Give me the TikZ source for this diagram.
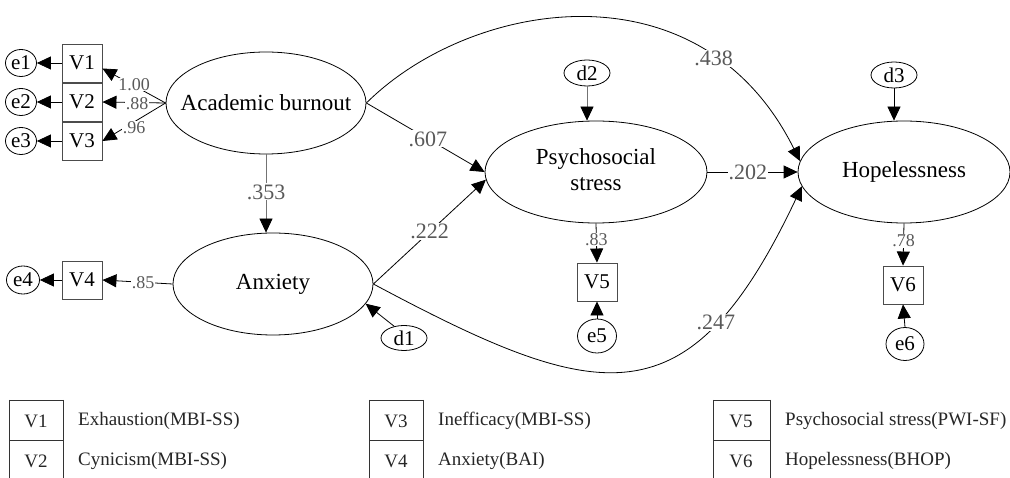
\documentclass[tikz,border=0pt]{standalone}
\usepackage{fontspec}
\setmainfont{Liberation Serif}
\usetikzlibrary{arrows.meta,shapes.geometric}
\newcommand{\narrowtext}[1]{\makebox[0pt]{#1}}

\begin{document}
\begin{tikzpicture}[x=1pt,y=-1pt,>={Triangle[length=14pt,width=13pt]},
    latent/.style={draw,ellipse,inner sep=0pt,line width=0.8pt,font=\fontsize{23}{26}\selectfont},
    obs/.style={draw=black!70,line width=0.9pt,inner sep=0pt,minimum width=40pt,minimum height=38pt,font=\fontsize{21}{22}\selectfont},
    err/.style={draw,ellipse,inner sep=0pt,line width=0.8pt,font=\fontsize{21}{22}\selectfont},
    conn/.style={->,line width=0.8pt},
    greyconn/.style={-{Triangle[length=14pt,width=13pt,color=black]},line width=0.8pt,draw=black!55},
    coef/.style={fill=white,inner sep=1pt,text=black!65,font=\fontsize{22}{23}\selectfont},
    scoef/.style={coef,inner sep=0.5pt,font=\fontsize{18}{19}\selectfont},
    legline/.style={line width=0.8pt,black!80},
    legkey/.style={inner sep=0pt,text=black!85,font=\fontsize{19}{21}\selectfont},
    legtext/.style={legkey,anchor=west}]
    \useasboundingbox[fill=white] (0,0) rectangle (1010,478);

    \node[latent,minimum width=200pt,minimum height=102pt] (AB) at (266,103) {\narrowtext{Academic burnout}};
    \node[latent,minimum width=200pt,minimum height=102pt] (Anx) at (273,284) {\narrowtext{Anxiety}};
    \node[latent,minimum width=222pt,minimum height=102pt] (Psy) at (596,172)
      {\narrowtext{\begin{tabular}{@{}c@{}}Psychosocial\\stress\end{tabular}}};
    \node[latent,minimum width=212pt,minimum height=102pt] (Hop) at (904,172) {\narrowtext{Hopelessness}};

    \node[obs] (V1) at (82,63) {V1};
    \node[obs] (V2) at (82,102) {V2};
    \node[obs] (V3) at (82,141) {V3};
    \node[obs] (V4) at (82,280) {V4};
    \node[obs] (V5) at (597,282) {V5};
    \node[obs] (V6) at (903,285) {V6};

    \node[err,minimum width=31pt,minimum height=27pt] (e1) at (21,63) {e1};
    \node[err,minimum width=31pt,minimum height=27pt] (e2) at (21,102) {e2};
    \node[err,minimum width=31pt,minimum height=27pt] (e3) at (21,141) {e3};
    \node[err,minimum width=33pt,minimum height=28pt] (e4) at (23,280) {e4};
    \node[err,minimum width=39pt,minimum height=34pt] (e5) at (597,336) {e5};
    \node[err,minimum width=38pt,minimum height=33pt] (e6) at (905,344) {e6};
    \node[err,minimum width=46pt,minimum height=25pt] (d1) at (404,338) {d1};
    \node[err,minimum width=46pt,minimum height=26pt] (d2) at (587,73) {d2};
    \node[err,minimum width=46pt,minimum height=26pt] (d3) at (894,75) {d3};

    \draw[conn] (V1.west) -- (e1.east);
    \draw[conn] (V2.west) -- (e2.east);
    \draw[conn] (V3.west) -- (e3.east);
    \draw[conn] (V4.west) -- (e4.east);
    \draw[conn] (e5.north) -- (V5.south);
    \draw[conn] (e6.north) -- (V6.south);

    \draw[conn] (AB.west) -- (V1.-15) node[scoef,pos=0.5,yshift=1.5pt] (w1) {1.00};
    \draw[conn] (AB.west) -- (V2.east) node[scoef,pos=0.45,yshift=-1pt] (w2) {.88};
    \draw[conn] (AB.west) -- (V3.east) node[scoef,pos=0.5,yshift=-6pt] (w3) {.96};
    \draw[conn] (Anx.west) -- (V4.east) node[scoef,pos=0.42] (w4) {.85};
    \draw[conn] (Psy.south) -- (V5.north) node[scoef,pos=0.42] (w5) {.83};
    \draw[conn] (Hop.south) -- (V6.north) node[scoef,pos=0.42] (w6) {.78};

    \draw[greyconn] (AB.south) -- (AB.south |- Anx.north) node[coef,pos=0.48] (b353) {.353};
    \draw[conn] (AB.east) -- (Psy.west) node[coef,pos=0.52] (b607) {.607};
    \draw[conn] (Anx.east) -- (Psy.184) node[coef,pos=0.5] (b222) {.222};
    \draw[conn] (Psy.east) -- (Hop.west) node[coef,pos=0.45] (b202) {.202};
    \draw[conn] (AB.east) .. controls (470,0) and (700,-40) .. (Hop.174) node[coef,pos=0.77] (b438) {.438};
    \draw[conn] (Anx.east) .. controls (600,405) and (689,425) .. (Hop.188) node[coef,pos=0.74] (b247) {.247};

    \draw[conn] (d1.130) -- (Anx.-12);
    \draw[greyconn] (d2.south) -- (d2.south |- Psy.north);
    \draw[conn] (d3.south) -- (d3.south |- Hop.north);

    \draw[legline] (9,400) -- (9,478) (63,400) -- (63,478) (9,400) -- (63,400) (9,440) -- (63,440);
    \node[legkey] (k1) at (36,421) {V1};
    \node[legkey] (k2) at (36,461) {V2};
    \node[legtext] (t1) at (78,421) {Exhaustion(MBI-SS)};
    \node[legtext] (t2) at (78,461) {Cynicism(MBI-SS)};

    \draw[legline] (369,400) -- (369,478) (423,400) -- (423,478) (369,400) -- (423,400) (369,440) -- (423,440);
    \node[legkey] (k3) at (396,421) {V3};
    \node[legkey] (k4) at (396,461) {V4};
    \node[legtext] (t3) at (438,421) {Inefficacy(MBI-SS)};
    \node[legtext] (t4) at (438,461) {Anxiety(BAI)};

    \draw[legline] (713,400) -- (713,478) (770,400) -- (770,478) (713,400) -- (770,400) (713,440) -- (770,440);
    \node[legkey] (k5) at (741,421) {V5};
    \node[legkey] (k6) at (741,461) {V6};
    \node[legtext] (t5) at (785,421) {Psychosocial stress(PWI-SF)};
    \node[legtext] (t6) at (785,461) {Hopelessness(BHOP)};
  \end{tikzpicture}
\end{document}
